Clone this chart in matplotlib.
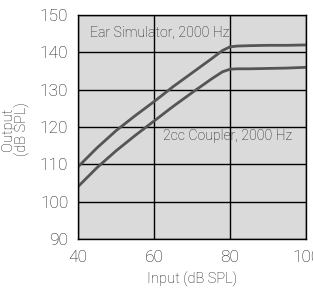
import matplotlib
matplotlib.use("Agg")
import matplotlib.pyplot as plt

input_db = [40, 45, 50, 55, 60, 65, 70, 75, 78, 80, 82, 85, 90, 95, 100]
ear_sim = [109.3, 114.4, 119.0, 123.0, 126.8, 130.8, 134.5, 138.2, 140.5, 141.5, 141.7, 141.8, 141.9, 141.9, 142.0]
coupler = [104.0, 109.1, 113.6, 117.7, 121.6, 125.5, 129.2, 132.8, 134.8, 135.5, 135.6, 135.6, 135.7, 135.8, 136.0]

xticks = [40, 60, 80, 100]
yticks = [90, 100, 110, 120, 130, 140, 150]

plt.rcParams['font.family'] = ['Roboto', 'Liberation Sans', 'DejaVu Sans']
txt_color = '#1a1a1a'

fig = plt.figure(figsize=(3.13, 2.90), dpi=100)
ax = fig.add_axes([0.249, 0.176, 0.729, 0.772])
ax.set_facecolor('#dadada')
ax.plot(input_db, ear_sim, color='#555555', lw=2.0, solid_capstyle='butt')
ax.plot(input_db, coupler, color='#555555', lw=2.0, solid_capstyle='butt')
ax.set_xlim(40, 100)
ax.set_ylim(90, 150)
ax.set_xticks(xticks)
ax.set_yticks(yticks)
ax.grid(True, color='black', lw=1.0)
ax.set_axisbelow(True)
for s in ax.spines.values():
    s.set_color('black')
    s.set_linewidth(1.0)
for lbl in ax.get_xticklabels() + ax.get_yticklabels():
    lbl.set_fontweight('light')
ax.tick_params(length=0, labelsize=12.5, labelcolor=txt_color, pad=7)
ax.tick_params(axis='x', pad=8)
ax.text(43.2, 145.2, 'Ear Simulator, 2000 Hz', fontsize=10.2, fontweight='light',
        color=txt_color, va='center', ha='left')
ax.text(62.4, 117.6, '2cc Coupler, 2000 Hz', fontsize=10.2, fontweight='light',
        color=txt_color, va='center', ha='left')
ax.set_xlabel('Input (dB SPL)', fontsize=10.5, fontweight='light', color=txt_color, labelpad=5)
ax.set_ylabel('Output\n(dB SPL)', fontsize=10.5, fontweight='light', color=txt_color,
              linespacing=1.0, va='center', ha='center')
ax.yaxis.set_label_coords(-0.275, 0.49)
fig.savefig('out.png', dpi=100)
